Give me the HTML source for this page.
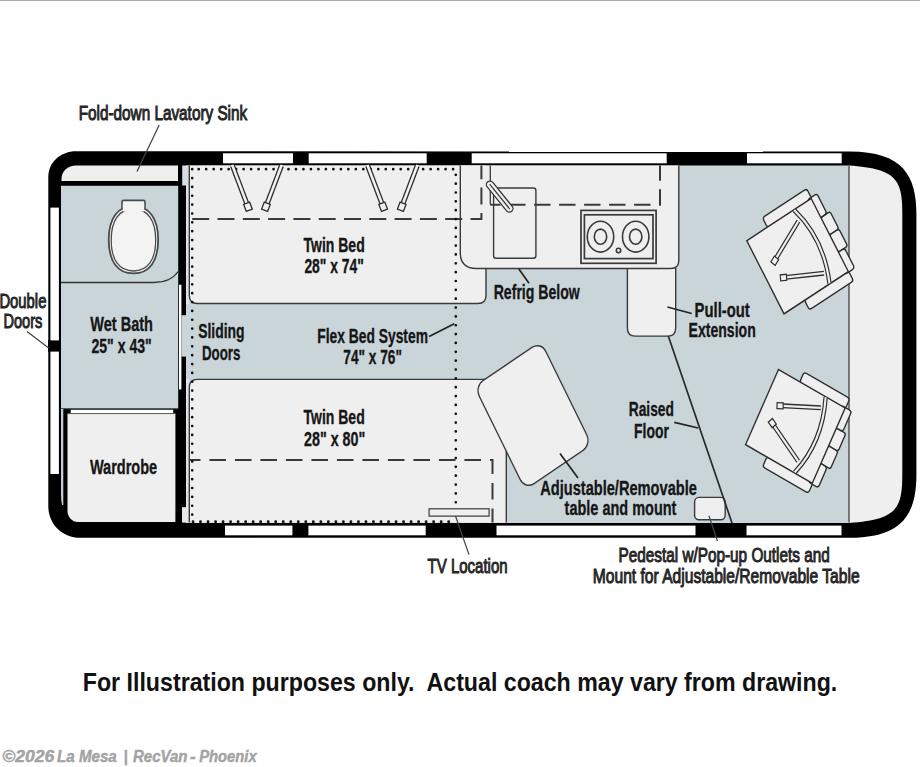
<!DOCTYPE html>
<html><head><meta charset="utf-8"><style>
html,body{margin:0;padding:0;background:#fff;width:920px;height:767px;overflow:hidden;}
svg{display:block;}
text{font-family:"Liberation Sans",sans-serif;}
.lb{font-weight:bold;font-size:20.5px;fill:#161616;stroke:#161616;stroke-width:0.35px;}
.lo{font-weight:normal;font-size:20.5px;fill:#262626;stroke:#262626;stroke-width:1.0px;}
.ln{stroke:#333;stroke-width:1.3;fill:none;}
.lt{fill:#efefef;stroke:#3a3a3a;stroke-width:1.4;}
</style></head><body>
<svg width="920" height="767" viewBox="0 0 920 767">
<rect x="0" y="0" width="920" height="1" fill="#aaa"/>

<!-- van shell -->
<path d="M 76 151.3 L 850 151.5 C 902.5 151.8, 916.4 175, 916.4 215 L 916.4 474.3 C 916.4 514.3, 902.5 537.5, 850 537.8 L 80 537.8 C 62 537.8, 48.3 524, 48.3 506 L 48.3 177 C 48.3 162, 61 151.3, 76 151.3 Z" fill="#000"/>

<!-- main floor -->
<rect x="186" y="165.5" width="664" height="357.5" fill="#cad5da"/>
<!-- front cab -->
<path d="M 849 165.5 C 897.5 169, 902.3 180, 902.3 215 L 902.3 473.5 C 902.3 508.5, 897.5 519.5, 849 523 Z" fill="#efeff0"/>
<line x1="849" y1="165.5" x2="849" y2="522.5" stroke="#555" stroke-width="1.5"/>

<!-- sink -->
<path d="M 61.5 181 L 61.5 179 C 61.5 171, 68 165.5, 76 165.5 L 178 165.5 L 178 181 Z" fill="#efefef"/>
<!-- bath -->
<rect x="61" y="185.8" width="117.2" height="222.8" fill="#cad5da"/>
<!-- wardrobe -->
<path d="M 67.5 413.6 L 175.4 413.6 L 175.4 522 L 78 522 C 72 522, 67.5 517, 67.5 511 Z" fill="#efefef"/>
<rect x="70.7" y="409.7" width="102.5" height="3.6" fill="#fff"/>
<line x1="61" y1="408.8" x2="178" y2="408.8" stroke="#444" stroke-width="1"/>
<line x1="67.5" y1="413.6" x2="175.4" y2="413.6" stroke="#555" stroke-width="0.9"/>
<!-- strip near bath wall top -->
<rect x="182.2" y="165.5" width="6.8" height="20" fill="#d9dee6"/>
<rect x="186" y="185" width="3" height="119" fill="#dfe3e8"/>
<rect x="186" y="379" width="3" height="144" fill="#dfe3e8"/>

<!-- windows top -->
<g fill="#fff">
<rect x="223" y="153.3" width="70" height="10"/>
<rect x="308.7" y="153.3" width="118" height="10"/>
<rect x="471.7" y="153.3" width="195" height="10"/>
<rect x="747" y="153.3" width="94.7" height="10"/>
<!-- windows bottom -->
<rect x="225" y="525.6" width="67.4" height="9.7"/>
<rect x="308.4" y="525.6" width="117.3" height="9.7"/>
<rect x="496.5" y="525.6" width="199" height="9.7"/>
<rect x="746.5" y="525.6" width="95" height="9.7"/>
<!-- left door -->
<rect x="50.4" y="207.6" width="8.5" height="266.4"/>
<!-- sliding door -->
<rect x="179" y="284.7" width="2.4" height="104.7"/>
</g>
<rect x="48" y="340.4" width="13" height="11.2" fill="#000"/>
<path d="M 61 409 L 63.3 409 L 63.3 505 L 62 505 Q 61 500 61 495 Z" fill="#c9cad3"/>
<rect x="182" y="507.2" width="6" height="15.4" fill="#e8e8ea"/>
<rect x="181.4" y="315.2" width="7" height="41.4" fill="#cad5da"/>

<!-- toilet area divider -->
<path d="M 61 282.5 L 154 282.5 C 165 282.5, 173 279, 178.2 271.5" class="ln" stroke="#333" stroke-width="1.3"/>
<!-- toilet -->
<path d="M 133.45 206.20000000000002 C 149.29 206.20000000000002, 158.2 218.30, 158.2 239.8 C 158.2 261.30, 149.29 273.40000000000003, 133.45 273.40000000000003 C 117.61 273.40000000000003, 108.69999999999999 261.30, 108.69999999999999 239.8 C 108.69999999999999 218.30, 117.61 206.20000000000002, 133.45 206.20000000000002 Z" fill="#f3f3f3" stroke="#4a4a4a" stroke-width="1.8"/>
<path d="M 133.45 209.0 C 147.69 209.0, 155.7 220.16, 155.7 240.0 C 155.7 259.84, 147.69 271.0, 133.45 271.0 C 119.21 271.0, 111.19999999999999 259.84, 111.19999999999999 240.0 C 111.19999999999999 220.16, 119.21 209.0, 133.45 209.0 Z" fill="none" stroke="#4a4a4a" stroke-width="1.3"/>
<path d="M 122 208 L 122 202 Q 122 200.4 123.6 200.4 L 143.4 200.4 Q 145 200.4 145 202 L 145 208" fill="#f3f3f3" stroke="#4a4a4a" stroke-width="1.6"/>
<rect x="122.9" y="204" width="21.2" height="7.5" fill="#f3f3f3"/>

<!-- top twin bed -->
<path d="M 189.3 165.5 L 189.3 295.5 Q 189.3 303.5 197.3 303.5 L 478 303.5 Q 486 303.5 486 295.5 L 486 165.5" fill="#efefef" stroke="#3a3a3a" stroke-width="1.4"/>
<!-- pull-out -->
<path d="M 627.4 268 L 627.4 328 Q 627.4 336.1 635.4 336.1 L 667.7 336.1 Q 675.7 336.1 675.7 328 L 675.7 268" fill="#efefef" stroke="#3a3a3a" stroke-width="1.4"/>
<!-- counter -->
<path d="M 460.3 165.5 L 460.3 252.5 Q 460.3 268.5 476.3 268.5 L 670.8 268.5 Q 678.8 268.5 678.8 260.5 L 678.8 165.5" fill="#efefef" stroke="#3a3a3a" stroke-width="1.4"/>
<!-- bottom twin bed -->
<path d="M 189.3 522.5 L 189.3 387.4 Q 189.3 379.4 197.3 379.4 L 506.3 379.4 L 506.3 522.5" fill="#efefef" stroke="#3a3a3a" stroke-width="1.4"/>

<!-- dashed lines -->
<g stroke="#3a3a3a" stroke-width="2" fill="none" stroke-dasharray="17 8.3">
<path d="M 192.2 219 L 481.4 219 L 481.4 165.5"/>
<path d="M 189.3 460 L 492.5 460 L 492.5 522.5" stroke-dasharray="16.6 8.9" stroke-dashoffset="5.4"/>
<path d="M 490.3 204.8 L 660 204.8 L 660 165.5" stroke-dasharray="16.4 8.6" stroke-dashoffset="6.2"/>
</g>
<line x1="490.3" y1="165.5" x2="490.3" y2="204.5" stroke="#3a3a3a" stroke-width="1.3"/>

<!-- dotted flex bed outline -->
<g stroke="#111" stroke-width="2.7" stroke-linecap="round" fill="none">
<path d="M 198.7 169.2 L 454 169.2" stroke-dasharray="0 7.482"/>
<path d="M 192.2 169.2 L 192.2 519" stroke-dasharray="0 8.856"/>
<path d="M 455.8 174.8 L 455.8 503" stroke-dasharray="0 8.85"/>
<path d="M 193 521.8 L 456 521.8" stroke-dasharray="0 7.52" stroke-width="2.9"/>
</g>

<!-- sink -->
<rect x="493.6" y="188" width="42.3" height="70.2" rx="2.5" fill="none" stroke="#3a3a3a" stroke-width="1.4"/>
<g transform="translate(499.7,196.6) rotate(51)">
<rect x="-19" y="-3.6" width="38" height="7.2" rx="3.6" fill="#efefef" stroke="#3a3a3a" stroke-width="1.3"/>
<line x1="-16" y1="0" x2="16" y2="0" stroke="#3a3a3a" stroke-width="1.2"/>
</g>
<!-- stove -->
<rect x="581" y="210.4" width="75.1" height="52.9" fill="none" stroke="#3a3a3a" stroke-width="1.7"/>
<rect x="584.4" y="214.8" width="68.6" height="43.8" fill="none" stroke="#3a3a3a" stroke-width="1.7"/>
<g fill="none" stroke="#3a3a3a" stroke-width="1.6">
<ellipse cx="600.5" cy="236.7" rx="13.2" ry="15.4"/>
<ellipse cx="600.5" cy="236.7" rx="6.2" ry="7.6"/>
<ellipse cx="635.7" cy="236.7" rx="13.2" ry="15.4"/>
<ellipse cx="635.7" cy="236.7" rx="6.2" ry="7.6"/>
<circle cx="618.5" cy="250.5" r="2.2"/>
</g>

<!-- TV -->
<rect x="429.1" y="508.8" width="60" height="7.3" fill="#efefef" stroke="#3a3a3a" stroke-width="1.2"/>

<!-- table -->
<g transform="translate(533,415.5) scale(0.852,1) rotate(-30)">
<rect x="-45" y="-59.5" width="90" height="119" rx="11.5" fill="#efefef" stroke="#3a3a3a" stroke-width="1.5"/>
</g>
<!-- pedestal -->
<rect x="694.6" y="497.4" width="30.6" height="22.4" rx="4.5" fill="#efefef" stroke="#3a3a3a" stroke-width="1.4"/>

<!-- raised floor line -->
<line x1="668.3" y1="336.1" x2="732" y2="523" stroke="#2a2a2a" stroke-width="1.7"/>

<!-- chairs -->
<defs>
<g id="chair">
<g fill="#efefef" stroke="#2e2e2e" stroke-width="1.5">
<rect x="27" y="-11" width="58" height="11.5" rx="3"/>
<rect x="27" y="84" width="58" height="11.5" rx="3"/>
<rect x="84" y="22" width="12.5" height="20" rx="2.5"/>
<rect x="84" y="42" width="12.5" height="20" rx="2.5"/>
<rect x="80" y="-1" width="12.5" height="23" rx="3"/>
<rect x="80" y="62" width="12.5" height="23" rx="3"/>
<rect x="0" y="0" width="84.5" height="84.5"/>
</g>
<g fill="none" stroke-linecap="butt">
<path d="M 62 0.5 Q 77 42 60 84" stroke="#2e2e2e" stroke-width="5"/>
<path d="M 62 0.5 Q 77 42 60 84" stroke="#efefef" stroke-width="2.4"/>
<path d="M 60.6 12.4 L 20 31.8" stroke="#2e2e2e" stroke-width="5"/>
<path d="M 60.6 12.4 L 20 31.8" stroke="#efefef" stroke-width="2.4"/>
<path d="M 59.8 72 L 20.2 54" stroke="#2e2e2e" stroke-width="5"/>
<path d="M 59.8 72 L 20.2 54" stroke="#efefef" stroke-width="2.4"/>
</g>
<g fill="#efefef" stroke="#2e2e2e" stroke-width="1.3">
<rect x="-3.5" y="-3" width="7" height="6" transform="translate(17.5,33.2) rotate(-25)"/>
<rect x="-3.5" y="-3" width="7" height="6" transform="translate(17.7,52.8) rotate(25)"/>
</g>
</g>
</defs>
<use href="#chair" transform="matrix(0.762,-0.5,0.44,0.866,746.8,240.7)"/>
<use href="#chair" transform="rotate(-3.3,745.5,443.7) translate(-1.3,685.4) scale(1,-1) matrix(0.762,-0.5,0.44,0.866,746.8,240.7)"/>

<!-- bed legs -->
<defs>
<g id="leg">
<path d="M 0 0 L 0 41" stroke="#2e2e2e" stroke-width="5.2" fill="none"/>
<path d="M 0 -1 L 0 41" stroke="#f2f2f2" stroke-width="2.6" fill="none"/>
<rect x="-3.2" y="40" width="6.4" height="7.5" fill="#f2f2f2" stroke="#2e2e2e" stroke-width="1.3"/>
</g>
</defs>
<use href="#leg" transform="translate(232.5,165.8) rotate(-20.7)"/>
<use href="#leg" transform="translate(281.4,165.8) rotate(20.7)"/>
<use href="#leg" transform="translate(367.7,165.8) rotate(-20.7)"/>
<use href="#leg" transform="translate(417.2,165.8) rotate(20.7)"/>
<!-- labels -->
<text class="lo" x="78.7" y="119.8" textLength="168.5" lengthAdjust="spacingAndGlyphs">Fold-down Lavatory Sink</text>
<text class="lo" x="-0.6" y="307.6" textLength="47.0" lengthAdjust="spacingAndGlyphs">Double</text>
<text class="lo" x="3.4" y="328.1" textLength="38.9" lengthAdjust="spacingAndGlyphs">Doors</text>
<text class="lb" x="90.3" y="331.1" textLength="62.6" lengthAdjust="spacingAndGlyphs">Wet Bath</text>
<text class="lb" x="91.4" y="352.8" textLength="60.4" lengthAdjust="spacingAndGlyphs">25&quot; x 43&quot;</text>
<text class="lb" x="89.9" y="473.7" textLength="67.3" lengthAdjust="spacingAndGlyphs">Wardrobe</text>
<text class="lb" x="198.2" y="337.8" textLength="46.4" lengthAdjust="spacingAndGlyphs">Sliding</text>
<text class="lb" x="202.0" y="359.5" textLength="38.4" lengthAdjust="spacingAndGlyphs">Doors</text>
<text class="lb" x="303.5" y="251.5" textLength="61.2" lengthAdjust="spacingAndGlyphs">Twin Bed</text>
<text class="lb" x="304.4" y="273.3" textLength="59.5" lengthAdjust="spacingAndGlyphs">28&quot; x 74&quot;</text>
<text class="lb" x="317.2" y="342.6" textLength="110.8" lengthAdjust="spacingAndGlyphs">Flex Bed System</text>
<text class="lb" x="343.3" y="363.5" textLength="58.6" lengthAdjust="spacingAndGlyphs">74&quot; x 76&quot;</text>
<text class="lb" x="303.5" y="424.3" textLength="61.2" lengthAdjust="spacingAndGlyphs">Twin Bed</text>
<text class="lb" x="304.0" y="446.1" textLength="61.2" lengthAdjust="spacingAndGlyphs">28&quot; x 80&quot;</text>
<text class="lb" x="493.7" y="298.5" textLength="86.1" lengthAdjust="spacingAndGlyphs">Refrig Below</text>
<text class="lb" x="694.6" y="317" textLength="55.1" lengthAdjust="spacingAndGlyphs">Pull-out</text>
<text class="lb" x="688.5" y="337" textLength="67.3" lengthAdjust="spacingAndGlyphs">Extension</text>
<text class="lb" x="628.7" y="416.4" textLength="45.2" lengthAdjust="spacingAndGlyphs">Raised</text>
<text class="lb" x="634.1" y="438.4" textLength="34.9" lengthAdjust="spacingAndGlyphs">Floor</text>
<text class="lb" x="540.2" y="494.5" textLength="156.7" lengthAdjust="spacingAndGlyphs">Adjustable/Removable</text>
<text class="lb" x="564.6" y="515.4" textLength="111.8" lengthAdjust="spacingAndGlyphs">table and mount</text>
<text class="lo" x="427.6" y="572.5" textLength="80.0" lengthAdjust="spacingAndGlyphs">TV Location</text>
<text class="lo" x="618.6" y="561.8" textLength="211.1" lengthAdjust="spacingAndGlyphs">Pedestal w/Pop-up Outlets and</text>
<text class="lo" x="592.8" y="582.5" textLength="266.8" lengthAdjust="spacingAndGlyphs">Mount for Adjustable/Removable Table</text>
<text x="82.8" y="691" textLength="754.5" lengthAdjust="spacingAndGlyphs" style="font-weight:bold;font-size:26px;fill:#111;white-space:pre">For Illustration purposes only.  Actual coach may vary from drawing.</text>
<g style="font-weight:bold;font-style:italic;font-size:16.8px;fill:#a3a3a3;stroke:#a3a3a3;stroke-width:0.45"><text x="2.2" y="762.1" textLength="52.2" lengthAdjust="spacingAndGlyphs">©2026</text><text x="57.0" y="762.1" textLength="59.8" lengthAdjust="spacingAndGlyphs">La Mesa</text><text x="123.4" y="762.1" textLength="4.2" lengthAdjust="spacingAndGlyphs">|</text><text x="133.0" y="762.1" textLength="54.4" lengthAdjust="spacingAndGlyphs">RecVan</text><text x="190.1" y="762.1" textLength="5.7" lengthAdjust="spacingAndGlyphs">-</text><text x="199.2" y="762.1" textLength="57.5" lengthAdjust="spacingAndGlyphs">Phoenix</text></g>
<g stroke="#444" stroke-width="1.25">
<line x1="159.2" y1="125" x2="137" y2="171.5"/>
<line x1="27" y1="331.6" x2="48.7" y2="348"/>
<line x1="455.5" y1="516" x2="469" y2="554.6"/>
<line x1="708.9" y1="515.6" x2="717.4" y2="541"/>
</g>
<g stroke="#222" stroke-width="1.7">
<line x1="429.1" y1="336.5" x2="454.3" y2="323.8"/>
<line x1="518.9" y1="269" x2="529" y2="283.3"/>
<line x1="667.4" y1="307" x2="691.7" y2="313.5"/>
<line x1="674.3" y1="422.3" x2="698.3" y2="428"/>
<line x1="560" y1="453.4" x2="578" y2="478"/>
</g>
</svg>
</body></html>
